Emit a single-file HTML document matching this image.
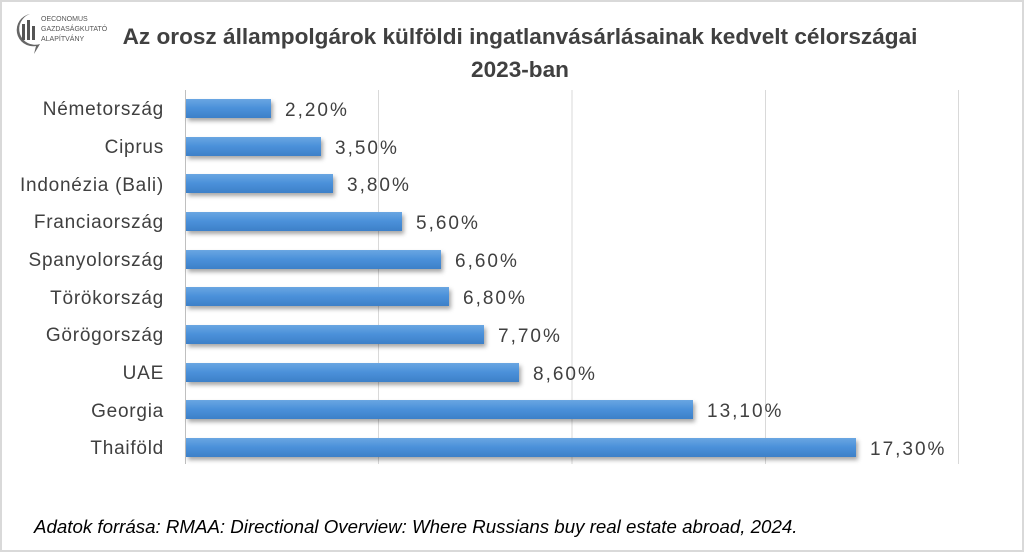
<!DOCTYPE html>
<html><head><meta charset="utf-8"><style>
body{margin:0;background:#fff;}
.wrap{position:relative;width:1024px;height:552px;overflow:hidden;font-family:"Liberation Sans",sans-serif;}
</style></head><body><div class="wrap">
<svg width="1024" height="552" xmlns="http://www.w3.org/2000/svg" font-family="Liberation Sans, sans-serif">
<defs>
<linearGradient id="g" x1="0" y1="0" x2="0" y2="1">
<stop offset="0" stop-color="#6aa6e2"/><stop offset="0.5" stop-color="#4a90d9"/><stop offset="1" stop-color="#3d80c8"/>
</linearGradient>
<filter id="s" x="-5%" y="-30%" width="115%" height="180%"><feDropShadow dx="2" dy="3" stdDeviation="2" flood-color="#000" flood-opacity="0.35"/></filter>
</defs>
<rect x="1" y="1" width="1022" height="550" fill="#fff" stroke="#d9d9d9" stroke-width="2"/>
<g fill="#555">
<path d="M30 14 a15 15 0 1 0 6 32 l-2 8 l6 -10 a15 15 0 0 1 -10 -30z" fill="#666"/>
<rect x="22" y="24" width="3" height="16"/><rect x="27" y="20" width="3" height="20"/><rect x="32" y="26" width="3" height="14"/>
</g>
<text x="41" y="21" font-size="7" fill="#555">OECONOMUS</text>
<text x="41" y="31" font-size="7" fill="#555">GAZDASÁGKUTATÓ</text>
<text x="41" y="41" font-size="7" fill="#555">ALAPÍTVÁNY</text>
<text x="520" y="44" font-size="22.6" font-weight="bold" fill="#404040" text-anchor="middle">Az orosz állampolgárok külföldi ingatlanvásárlásainak kedvelt célországai</text>
<text x="520" y="77" font-size="22.6" font-weight="bold" fill="#404040" text-anchor="middle">2023-ban</text>
<g stroke="#d9d9d9" stroke-width="1">
<line x1="378.5" y1="90" x2="378.5" y2="464"/><line x1="572" y1="90" x2="572" y2="464"/><line x1="765.5" y1="90" x2="765.5" y2="464"/><line x1="958.5" y1="90" x2="958.5" y2="464"/>
</g>
<line x1="185.5" y1="90" x2="185.5" y2="464" stroke="#bfbfbf"/>
<g font-size="19" fill="#404040">
<g text-anchor="end" letter-spacing="0.75">
<text x="164" y="115">Németország</text>
<text x="164" y="153">Ciprus</text>
<text x="164" y="191">Indonézia (Bali)</text>
<text x="164" y="228">Franciaország</text>
<text x="164" y="266">Spanyolország</text>
<text x="164" y="304">Törökország</text>
<text x="164" y="341">Görögország</text>
<text x="164" y="379">UAE</text>
<text x="164" y="417">Georgia</text>
<text x="164" y="454">Thaiföld</text>
</g>
<g filter="url(#s)" fill="url(#g)">
<rect x="186" y="99" width="85" height="19"/>
<rect x="186" y="137" width="135" height="19"/>
<rect x="186" y="174" width="147" height="19"/>
<rect x="186" y="212" width="216" height="19"/>
<rect x="186" y="250" width="255" height="19"/>
<rect x="186" y="287" width="263" height="19"/>
<rect x="186" y="325" width="298" height="19"/>
<rect x="186" y="363" width="333" height="19"/>
<rect x="186" y="400" width="507" height="19"/>
<rect x="186" y="438" width="670" height="19"/>
</g>
<g letter-spacing="2">
<text x="285" y="116">2,20%</text>
<text x="335" y="154">3,50%</text>
<text x="347" y="191">3,80%</text>
<text x="416" y="229">5,60%</text>
<text x="455" y="267">6,60%</text>
<text x="463" y="304">6,80%</text>
<text x="498" y="342">7,70%</text>
<text x="533" y="380">8,60%</text>
<text x="707" y="417">13,10%</text>
<text x="870" y="455">17,30%</text>
</g>
</g>
<text x="34" y="533" font-size="18.7" font-style="italic" fill="#000">Adatok forrása: RMAA: Directional Overview: Where Russians buy real estate abroad, 2024.</text>
</svg>
</div></body></html>
